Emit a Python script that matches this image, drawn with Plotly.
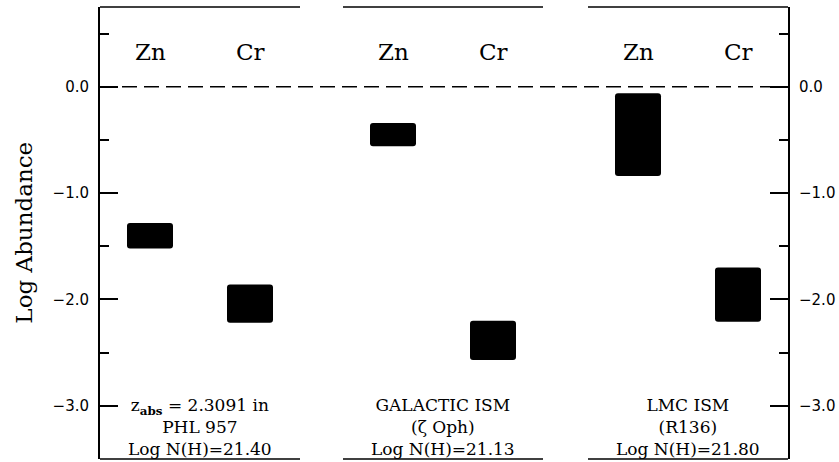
import plotly.graph_objects as go

# ---- data ----
panel_offsets = [0.0, 2.43, 4.88]
panel_span = 2.0
elements = ["Zn", "Cr"]
element_offsets = [0.5, 1.5]
zn_low = [-1.52, -0.56, -0.84]
zn_high = [-1.28, -0.34, -0.06]
cr_low = [-2.22, -2.57, -2.21]
cr_high = [-1.86, -2.20, -1.70]
panel_labels = [
    "z<sub><b>abs</b></sub> = 2.3091 in<br>PHL 957<br>Log N(H)=21.40",
    "GALACTIC ISM<br>(ζ Oph)<br>Log N(H)=21.13",
    "LMC ISM<br>(R136)<br>Log N(H)=21.80",
]
major_ticks = [0.0, -1.0, -2.0, -3.0]
major_ticktext = ["0.0", "\u22121.0", "\u22122.0", "\u22123.0"]
minor_ticks = [0.5, -0.5, -1.5, -2.5]
y_range = [-3.5, 0.75]
x_range = [0.0, 6.88]
label_y = 0.33

SERIF = "DejaVu Serif"
SANS = "DejaVu Sans"

fig = go.Figure()

lows = {"Zn": zn_low, "Cr": cr_low}
highs = {"Zn": zn_high, "Cr": cr_high}
for el, eo in zip(elements, element_offsets):
    xs = [po + eo for po in panel_offsets]
    fig.add_trace(go.Bar(
        x=xs,
        y=[h - l for h, l in zip(highs[el], lows[el])],
        base=lows[el],
        width=0.46,
        marker=dict(color="black", line=dict(width=0), cornerradius=3),
        showlegend=False,
        hoverinfo="skip",
    ))

# invisible trace for right axis
fig.add_trace(go.Scatter(x=[None], y=[None], yaxis="y2", showlegend=False))

# element labels
for po in panel_offsets:
    for el, eo in zip(elements, element_offsets):
        fig.add_annotation(x=po + eo, y=label_y, xref="x", yref="y", text=el,
                           showarrow=False, font=dict(family=SERIF, size=23, color="black"))

# panel description labels
for po, txt in zip(panel_offsets, panel_labels):
    fig.add_annotation(x=po + 1.0, y=y_range[0], xref="x", yref="y", text=txt,
                       showarrow=False, yanchor="bottom", align="center", borderpad=0,
                       yshift=-1,
                       font=dict(family=SERIF, size=17, color="black"))

# top/bottom border segments per panel
for po in panel_offsets:
    x0 = po
    x1 = min(po + panel_span, x_range[1])
    for yv in (0, 1):
        fig.add_shape(type="line", xref="x", yref="paper", x0=x0, x1=x1, y0=yv, y1=yv,
                      line=dict(color="black", width=1.6))

# dashed zero line
fig.add_shape(type="line", xref="x", yref="y", x0=x_range[0], x1=x_range[1], y0=0, y1=0,
              line=dict(color="black", width=1.4, dash="15px,7px"))

# y-axis title
fig.add_annotation(xref="paper", yref="paper", x=-0.111, y=0.5, text="Log Abundance",
                   textangle=-90, showarrow=False, xanchor="center", yanchor="middle",
                   font=dict(family=SERIF, size=23, color="black"))

axis_common = dict(
    range=y_range,
    tickmode="array",
    tickvals=major_ticks,
    ticktext=major_ticktext,
    ticks="inside",
    ticklen=18,
    tickwidth=1.6,
    tickcolor="black",
    showline=True,
    linewidth=2,
    linecolor="black",
    showgrid=False,
    zeroline=False,
    tickfont=dict(family=SANS, size=15, color="black"),
    minor=dict(tickmode="array", tickvals=minor_ticks, ticks="inside", ticklen=9,
               tickwidth=1.6, tickcolor="black", showgrid=False),
    ticklabelstandoff=6,
)

fig.update_layout(
    width=839, height=462,
    margin=dict(l=100, r=51, t=7, b=3, autoexpand=False),
    plot_bgcolor="white", paper_bgcolor="white",
    barmode="overlay",
    xaxis=dict(range=x_range, visible=False, showgrid=False, zeroline=False),
    yaxis=dict(side="left", **axis_common),
    yaxis2=dict(side="right", overlaying="y", anchor="x", **axis_common),
    showlegend=False,
)

fig.write_html("out.html", config={"displayModeBar": False})

# remove default page margin so the figure sits at the window's top-left corner
with open("out.html", "r", encoding="utf-8") as f:
    html = f.read()
html = html.replace("<head>", "<head><style>html,body{margin:0;padding:0;overflow:hidden;}</style>", 1)
with open("out.html", "w", encoding="utf-8") as f:
    f.write(html)
